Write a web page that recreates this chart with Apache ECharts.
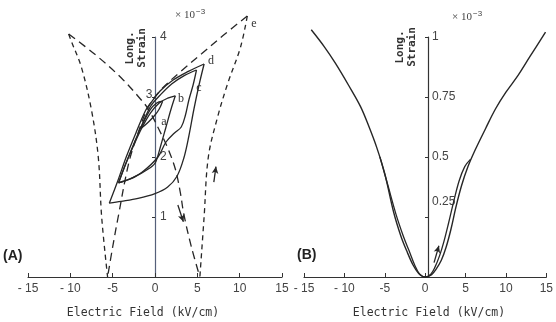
<!DOCTYPE html>
<html><head><meta charset="utf-8">
<script src="https://cdn.jsdelivr.net/npm/echarts@6/dist/echarts.min.js"></script>
<style>html,body{margin:0;padding:0;background:#fff}#c{width:556px;height:322px}</style>
</head><body><div id="c"></div>
<script>
// ---------- tick values ----------
const xTicks = [-15, -10, -5, 0, 5, 10, 15];
const yTicksA = [0, 1, 2, 3, 4];
const yTicksB = [0, 0.25, 0.5, 0.75, 1];

// ---------- Panel A : dashed butterfly (major) branches [E kV/cm, strain x1e-3] ----------
const dashLongFromLeft = [[-10.2,4.05],[-7,3.7],[-4,3.32],[-1.8,2.98],[-0.8,2.8],[0.5,2.45],[1.5,2.15],[2.4,1.8],[3.0,1.4],[3.4,1.05],[4.3,0.5],[5.3,0]];
const dashLongFromRight = [[10.9,4.35],[8,4.02],[5.5,3.72],[3,3.42],[0.7,3.12],[-0.8,2.83],[-2,2.4],[-3.1,1.9],[-4.35,1.0],[-5,0.5],[-5.6,0]];
const dashSteepLeft = [[-10.2,4.05],[-9.8,3.9],[-8.7,3.5],[-7.5,2.78],[-6.7,2.0],[-6.3,1.0],[-5.6,0]];
const dashSteepRight = [[10.9,4.35],[10.1,3.83],[8.6,3.23],[7.4,2.67],[6.3,2.0],[5.8,1.0],[5.3,0]];

// ---------- Panel A : solid minor loops ----------
const loopDLower = [[-5.4,1.23],[-4,1.26],[-2,1.31],[0,1.39],[1.5,1.5],[2.6,1.68],[3.4,1.98],[4.0,2.35],[4.6,2.8],[5.2,3.2],[5.8,3.55]];
const loopDUpper = [[5.8,3.55],[4,3.43],[2.1,3.28],[0.6,3.1],[-0.4,2.92],[-1.1,2.78],[-2.2,2.42],[-3.4,2.0],[-4.4,1.6],[-5.4,1.23]];
const loopCLower = [[-4.3,1.57],[-3,1.63],[-1.5,1.75],[0.35,2.0],[1.3,2.25],[2.3,2.4],[3.1,2.5],[3.6,2.7],[4.0,2.95],[4.5,3.2],[4.9,3.45]];
const loopCUpper = [[4.9,3.45],[3.5,3.36],[2,3.22],[0.6,3.03],[-0.5,2.85],[-1.5,2.55],[-2.5,2.22],[-3.5,1.87],[-4.3,1.57]];
const loopBLower = [[-4.3,1.57],[-3,1.63],[-1.5,1.74],[-0.3,1.85],[0.1,1.92],[0.7,2.2],[1.3,2.5],[1.9,2.8],[2.4,3.02]];
const loopBUpper = [[2.4,3.02],[1.5,2.98],[0.5,2.9],[-0.5,2.74],[-1.5,2.5],[-2.5,2.2],[-3.5,1.87],[-4.3,1.57]];
const loopALower = [[-1.7,2.47],[-0.8,2.58],[0,2.7],[0.5,2.8],[0.9,2.93]];
const loopAUpper = [[0.9,2.93],[0.2,2.9],[-0.6,2.78],[-1.7,2.47]];

// ---------- Panel B : strain vs field ----------
const curveBOuter = [[-14.1,1.03],[-12.5,0.96],[-11.1,0.89],[-9.5,0.8],[-8,0.71],[-7,0.63],[-6,0.54],[-5,0.43],[-3.9,0.27],[-3,0.17],[-2.3,0.11],[-1.5,0.05],[-0.8,0.015],[0,0],[0.8,0.01],[1.3,0.03],[2,0.07],[2.6,0.125],[3.2,0.2],[3.8,0.29],[4.5,0.38],[5.3,0.46],[6.2,0.53],[7.5,0.62],[8.7,0.7],[10,0.77],[11.5,0.84],[13,0.92],[14.9,1.02]];
const curveBInner = [[-5.6,0.5],[-4.6,0.38],[-3.6,0.26],[-2.7,0.17],[-2,0.11],[-1.3,0.05],[-0.7,0.013],[0,0],[0.7,0.012],[1.2,0.04],[1.8,0.09],[2.3,0.145],[2.9,0.225],[3.5,0.31],[4.2,0.4],[4.9,0.46],[5.6,0.49]];

// ---------- text ----------
const loopLabels = ['a','b','c','d','e'];
const axisTitle = 'Electric Field (kV/cm)';
const yTitle = 'Long.\nStrain';

const INK = '#262626';
const fmtX = v => v <= -10 ? '- ' + (-v) : (v < 0 ? '-' + (-v) : String(v));

function ln(data, xi, dash, w) {
  return {
    type: 'line', data: data, xAxisIndex: xi, yAxisIndex: xi,
    showSymbol: false, symbol: 'none', smooth: 0.35, clip: false, silent: true,
    lineStyle: { color: INK, width: w || 1.3, type: dash || 'solid' }
  };
}
function arrowSeries(xi, pairs) {
  return {
    type: 'line', data: [], xAxisIndex: xi, yAxisIndex: xi, silent: true,
    markLine: {
      silent: true, symbol: ['none', 'arrow'], symbolSize: [5, 7],
      label: { show: false },
      lineStyle: { color: INK, width: 1.3, type: 'solid' },
      data: pairs.map(p => [{ coord: p[0] }, { coord: p[1] }])
    }
  };
}

const GA = { left: 28, top: 37, width: 254, height: 240 };
const GB = { left: 304, top: 37, width: 248, height: 240 };

const xAxisCommon = (gi) => ({
  type: 'value', gridIndex: gi, min: xTicks[0], max: xTicks[xTicks.length-1], interval: 5,
  axisLine: { onZero: false, lineStyle: { color: '#333', width: 1.2 } },
  axisTick: { inside: true, length: 4, lineStyle: { color: '#333' } },
  axisLabel: { margin: 6, color: '#444', fontSize: 12, fontFamily: 'Liberation Sans', formatter: fmtX },
  splitLine: { show: false }
});

const chart = echarts.init(document.getElementById('c'), null, { renderer: 'canvas' });
chart.setOption({
  animation: false,
  backgroundColor: '#fff',
  grid: [GA, GB],
  xAxis: [xAxisCommon(0), xAxisCommon(1)],
  yAxis: [
    { type: 'value', gridIndex: 0, min: yTicksA[0], max: yTicksA[yTicksA.length-1], interval: 1,
      position: 'left', offset: -GA.width / 2,
      axisLine: { onZero: false, lineStyle: { color: '#55607a', width: 1.2 } },
      axisTick: { length: 3, lineStyle: { color: '#333' } },
      axisLabel: { inside: true, margin: 5, color: '#444', fontSize: 12, fontFamily: 'Liberation Sans',
        formatter: v => (v === 0 || v === 3) ? '' : String(v) },
      splitLine: { show: false } },
    { type: 'value', gridIndex: 1, min: yTicksB[0], max: yTicksB[yTicksB.length-1], interval: 0.25,
      position: 'left', offset: -GB.width / 2,
      axisLine: { onZero: false, lineStyle: { color: '#333', width: 1.2 } },
      axisTick: { length: 3, lineStyle: { color: '#333' } },
      axisLabel: { inside: true, margin: 4, color: '#444', fontSize: 12, fontFamily: 'Liberation Sans',
        formatter: v => v === 0 ? '' : (v === 0.25 ? '{up|0.25}' : String(v)),
        rich: { up: { padding: [0, 0, 30, 0], fontSize: 12, color: '#444', fontFamily: 'Liberation Sans' } } },
      splitLine: { show: false } }
  ],
  series: [
    ln(dashLongFromLeft, 0, [8, 5]),
    ln(dashLongFromRight, 0, [8, 5]),
    ln(dashSteepLeft, 0, [5, 4]),
    ln(dashSteepRight, 0, [5, 4]),
    ln(loopDLower, 0), ln(loopDUpper, 0),
    ln(loopCLower, 0), ln(loopCUpper, 0),
    ln(loopBLower, 0), ln(loopBUpper, 0),
    ln(loopALower, 0), ln(loopAUpper, 0),
    arrowSeries(0, [[[2.7, 1.2], [3.35, 0.92]], [[6.95, 1.58], [7.2, 1.84]]]),
    ln(curveBOuter, 1, 'solid', 1.4),
    ln(curveBInner, 1, 'solid', 1.3),
    arrowSeries(1, [[[1.1, 0.06], [1.7, 0.13]]])
  ],
  graphic: [
    // Panel A annotations
    { type: 'text', x: 136, y: 48, rotation: Math.PI / 2, style: { text: yTitle, font: 'bold 11px "DejaVu Sans Mono"', fill: '#333', align: 'center', verticalAlign: 'middle', lineHeight: 12 } },
    { type: 'text', x: 175, y: 15, style: { text: '× 10{s|−3}', rich: { s: { fontSize: 8, verticalAlign: 'top', padding: [0, 0, 6, 1] } }, font: '11px "Liberation Serif"', fill: '#444', verticalAlign: 'middle' } },
    { type: 'text', x: 149, y: 95, style: { text: '3', font: '12px "Liberation Sans"', fill: '#444', align: 'center', verticalAlign: 'middle' } },
    { type: 'text', x: 164, y: 122, style: { text: loopLabels[0], font: '12px "Liberation Serif"', fill: '#333', align: 'center', verticalAlign: 'middle' } },
    { type: 'text', x: 181, y: 99, style: { text: loopLabels[1], font: '12px "Liberation Serif"', fill: '#333', align: 'center', verticalAlign: 'middle' } },
    { type: 'text', x: 199, y: 88, style: { text: loopLabels[2], font: '12px "Liberation Serif"', fill: '#333', align: 'center', verticalAlign: 'middle' } },
    { type: 'text', x: 211, y: 61, style: { text: loopLabels[3], font: '12px "Liberation Serif"', fill: '#333', align: 'center', verticalAlign: 'middle' } },
    { type: 'text', x: 254, y: 24, style: { text: loopLabels[4], font: '12px "Liberation Serif"', fill: '#333', align: 'center', verticalAlign: 'middle' } },
    { type: 'text', x: 3, y: 256, style: { text: '(A)', font: 'bold 14px "Liberation Sans"', fill: '#222', verticalAlign: 'middle' } },
    { type: 'text', x: 143, y: 313, style: { text: axisTitle, font: '11.5px "DejaVu Sans Mono"', fill: '#333', align: 'center', verticalAlign: 'middle' } },
    // Panel B annotations
    { type: 'text', x: 406, y: 47, rotation: Math.PI / 2, style: { text: yTitle, font: 'bold 11px "DejaVu Sans Mono"', fill: '#333', align: 'center', verticalAlign: 'middle', lineHeight: 12 } },
    { type: 'text', x: 452, y: 17, style: { text: '× 10{s|−3}', rich: { s: { fontSize: 8, verticalAlign: 'top', padding: [0, 0, 6, 1] } }, font: '11px "Liberation Serif"', fill: '#444', verticalAlign: 'middle' } },
    { type: 'text', x: 297, y: 255, style: { text: '(B)', font: 'bold 14px "Liberation Sans"', fill: '#222', verticalAlign: 'middle' } },
    { type: 'text', x: 429, y: 313, style: { text: axisTitle, font: '11.5px "DejaVu Sans Mono"', fill: '#333', align: 'center', verticalAlign: 'middle' } }
  ]
});
</script>
</body></html>
